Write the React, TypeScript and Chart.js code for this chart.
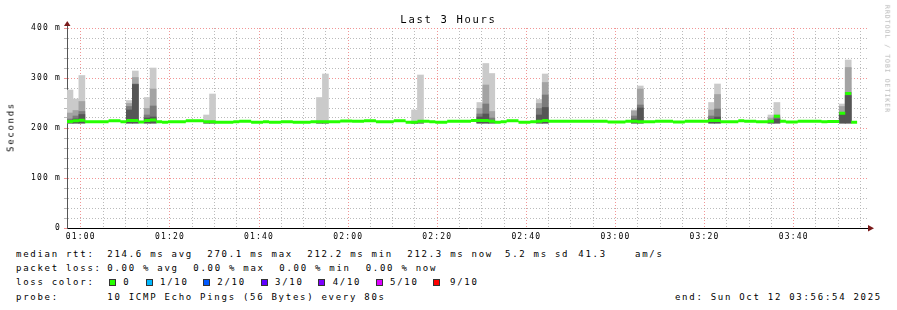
import React, { useEffect, useRef } from "react";
import { Chart, registerables } from "chart.js";

Chart.register(...registerables);

// ---------- data ----------
const TITLE = "Last 3 Hours";
const Y_AXIS_TITLE = "Seconds";
const WATERMARK = "RRDTOOL / TOBI OETIKER";

const X_START_MIN = 56.9; // 00:56:54
const WINDOW_MIN = 180;
const STEP_MIN = 80 / 60; // one probe round every 80 s

const X_TICK_MINUTES = [60, 80, 100, 120, 140, 160, 180, 200, 220];
const X_TICK_LABELS = ["01:00", "01:20", "01:40", "02:00", "02:20", "02:40", "03:00", "03:20", "03:40"];
const Y_TICK_VALUES = [0, 100, 200, 300, 400];
const Y_TICK_LABELS = ["0", "100 m", "200 m", "300 m", "400 m"];

// smoke (ms) per probe round column
const SMOKE_FLOOR = 210;
const SMOKE_COLS = [0, 1, 2, 10, 11, 13, 14, 23, 24, 42, 43, 58, 59, 69, 70, 71, 79, 80, 95, 96, 108, 109, 118, 119, 130, 131];
const SMOKE_MAX = [276, 258, 305, 255, 314, 261, 320, 226, 268, 261, 308, 236, 306, 251, 329, 309, 257, 308, 236, 284, 251, 288, 226, 251, 248, 336];
const SMOKE_UPPER = [230, 235, 253, 249, 301, 239, 278, 210, 210, 210, 210, 210, 210, 239, 286, 233, 249, 291, 234, 278, 236, 267, 220, 226, 243, 321];
const SMOKE_MID = [218, 224, 233, 243, 288, 226, 244, 210, 210, 210, 210, 210, 210, 228, 248, 220, 239, 266, 224, 246, 224, 238, 214, 222, 231, 271];
const SMOKE_INNER = [214, 218, 227, 236, 287, 220, 222, 210, 210, 210, 210, 210, 210, 222, 228, 215, 226, 241, 218, 240, 218, 222, 212, 218, 228, 265];

// median rtt (ms), runs starting at probe column
const MEDIAN_START_COLS = [0, 1, 2, 3, 7, 9, 10, 12, 13, 14, 15, 16, 17, 20, 23, 25, 28, 29, 31, 33, 34, 36, 38, 41, 46, 48, 50, 52, 55, 57, 59, 61, 62, 64, 68, 71, 72, 73, 74, 76, 78, 79, 80, 81, 84, 91, 94, 96, 99, 102, 104, 108, 110, 113, 114, 116, 118, 119, 120, 121, 123, 127, 128, 130, 131, 132];
const MEDIAN_VALUES = [213, 214.7, 215.3, 212.7, 214.3, 212.7, 215, 212, 215, 216, 212.7, 211.7, 212.7, 214.3, 212.7, 211.3, 212.5, 213.7, 211.5, 212.7, 211.5, 212.7, 211.3, 212.7, 214, 213.5, 214.7, 212.7, 214.3, 211.7, 213.7, 212.7, 211.3, 213.5, 215, 213.5, 211.7, 212.7, 214.7, 211.7, 212.7, 213.5, 215, 213.7, 213.5, 212, 213.7, 212.7, 213.7, 212, 213.7, 215, 212.7, 214.7, 213.7, 212.3, 213.5, 223.7, 213.5, 212, 213.5, 212.7, 213, 229.3, 269, 211.7];
const MEDIAN_END_COL = 133;

// legend texts
const RTT_LABEL = "median rtt:";
const RTT_STATS = ["214.6 ms avg", "270.1 ms max", "212.2 ms min", "212.3 ms now", "5.2 ms sd", "41.3", "am/s"];
const LOSS_LABEL = "packet loss:";
const LOSS_STATS = ["0.00 % avg", "0.00 % max", "0.00 % min", "0.00 % now"];
const LOSS_COLOR_LABEL = "loss color:";
const LOSS_LEVELS = ["0", "1/10", "2/10", "3/10", "4/10", "5/10", "9/10"];
const LOSS_COLORS = ["#26ff00", "#00b8ff", "#0059ff", "#5e00ff", "#7e00ff", "#dd00ff", "#ff0000"];
const PROBE_LABEL = "probe:";
const PROBE_TEXT = "10 ICMP Echo Pings (56 Bytes) every 80s";
const END_TEXT = "end: Sun Oct 12 03:56:54 2025";

// ---------- styles / layout ----------
const MONO = '"DejaVu Sans Mono", monospace';
const RED_GRID = "rgba(240,130,130,0.85)";
const GRAY_GRID = "rgba(170,170,170,0.8)";
const SMOKE_COLORS = ["#cacaca", "#a3a3a3", "#7b7b7b", "#555555"];
const MEDIAN_COLOR = "#26ff00";

const RTT_X = [107.3, 207.3, 307.3, 407.3, 505, 578.3, 635];
const LOSS_X = [107.3, 193.3, 279.3, 365.7];
const LOSS_BOX_X = [109.3, 145.7, 202.7, 260.7, 318.3, 375.7, 433.3];
const LOSS_TEXT_X = [123.3, 160, 217.3, 275, 332.7, 390, 450];
const LINE_TOPS = [250, 264.2, 278.4, 292.6];

const colCenter = (c: number) => X_START_MIN + (c + 0.5) * STEP_MIN;
const colStart = (c: number) => X_START_MIN + c * STEP_MIN;

const arrowPlugin = {
  id: "rrdArrows",
  beforeDraw(chart: any) {
    chart.ctx.letterSpacing = "1.18px";
  },
  afterDraw(chart: any) {
    const { ctx, chartArea } = chart;
    const { left, top, right, bottom } = chartArea;
    ctx.save();
    ctx.letterSpacing = "0px";
    ctx.strokeStyle = "#555";
    ctx.lineWidth = 1;
    ctx.beginPath();
    ctx.moveTo(Math.round(left) + 0.5, top - 2);
    ctx.lineTo(Math.round(left) + 0.5, top);
    ctx.stroke();
    ctx.fillStyle = "#7a1a1a";
    ctx.beginPath();
    ctx.moveTo(left - 3, top - 2);
    ctx.lineTo(left + 3.5, top - 2);
    ctx.lineTo(left + 0.25, top - 7);
    ctx.closePath();
    ctx.fill();
    ctx.beginPath();
    ctx.moveTo(right - 1, bottom - 3);
    ctx.lineTo(right - 1, bottom + 3.5);
    ctx.lineTo(right + 5, bottom + 0.25);
    ctx.closePath();
    ctx.fill();
    ctx.restore();
  },
};

function smokeDataset(tops: number[], color: string, order: number, label: string) {
  return {
    type: "bar" as const,
    label,
    data: SMOKE_COLS.map((c, i) => ({ x: colCenter(c), y: [SMOKE_FLOOR, tops[i]] })),
    backgroundColor: color,
    borderWidth: 0,
    barThickness: 6,
    grouped: false,
    order,
  };
}

function medianData() {
  const pts: any[] = [];
  MEDIAN_START_COLS.forEach((c, i) => {
    const next = i + 1 < MEDIAN_START_COLS.length ? MEDIAN_START_COLS[i + 1] : MEDIAN_END_COL;
    pts.push({ x: colStart(c), y: MEDIAN_VALUES[i] });
    pts.push({ x: colStart(next), y: MEDIAN_VALUES[i] });
    pts.push({ x: colStart(next), y: null });
  });
  return pts;
}

const xGridTicks = () => {
  const t: { value: number }[] = [];
  for (let m = 60; m <= X_START_MIN + WINDOW_MIN; m += 5) t.push({ value: m });
  return t;
};
const yGridTicks = () => {
  const t: { value: number }[] = [];
  for (let v = 0; v <= 400; v += 20) t.push({ value: v });
  return t;
};

export default function App() {
  const canvasRef = useRef<HTMLCanvasElement>(null);

  useEffect(() => {
    if (!canvasRef.current) return;
    const chart = new Chart(canvasRef.current, {
      type: "bar",
      data: {
        datasets: [
          {
            type: "line",
            label: "median rtt",
            data: medianData(),
            borderColor: MEDIAN_COLOR,
            borderWidth: 3,
            borderCapStyle: "butt",
            pointRadius: 0,
            spanGaps: false,
            tension: 0,
            order: 0,
          } as any,
          smokeDataset(SMOKE_INNER, SMOKE_COLORS[3], 1, "smoke inner"),
          smokeDataset(SMOKE_MID, SMOKE_COLORS[2], 2, "smoke mid"),
          smokeDataset(SMOKE_UPPER, SMOKE_COLORS[1], 3, "smoke upper"),
          smokeDataset(SMOKE_MAX, SMOKE_COLORS[0], 4, "smoke max"),
        ],
      },
      options: {
        animation: false,
        responsive: false,
        devicePixelRatio: 1,
        layout: { padding: { left: 0, top: 28, right: 28, bottom: 0 } },
        plugins: {
          legend: { display: false },
          title: { display: false },
          tooltip: { enabled: false },
        },
        scales: {
          x: {
            type: "linear",
            offset: false,
            min: X_START_MIN,
            max: X_START_MIN + WINDOW_MIN,
            afterBuildTicks: (s: any) => {
              s.ticks = xGridTicks();
            },
            afterFit: (s: any) => {
              s.height = 17;
              s.paddingLeft = 0;
              s.paddingRight = 0;
            },
            ticks: {
              autoSkip: false,
              maxRotation: 0,
              minRotation: 0,
              padding: 4,
              color: "#000",
              font: { family: MONO, size: 8 },
              callback: (v: any) => {
                const i = X_TICK_MINUTES.indexOf(Number(v));
                return i >= 0 ? X_TICK_LABELS[i] : "";
              },
            },
            grid: {
              offset: false,
              drawTicks: false,
              lineWidth: 1,
              color: (ctx: any) => (ctx.tick && ctx.tick.value % 20 === 0 ? RED_GRID : GRAY_GRID),
            },
            border: { display: true, color: "#000", width: 1, dash: [1, 2] },
          },
          y: {
            type: "linear",
            min: 0,
            max: 400,
            afterBuildTicks: (s: any) => {
              s.ticks = yGridTicks();
            },
            afterFit: (s: any) => {
              s.width = 67;
              s.paddingTop = 0;
              s.paddingBottom = 0;
            },
            ticks: {
              autoSkip: false,
              padding: 3,
              color: "#000",
              font: { family: MONO, size: 8 },
              callback: (v: any) => {
                const i = Y_TICK_VALUES.indexOf(Number(v));
                return i >= 0 ? Y_TICK_LABELS[i] : "";
              },
            },
            grid: {
              drawTicks: true,
              tickLength: 3,
              lineWidth: 1,
              color: (ctx: any) =>
                ctx.tick && ctx.tick.value === 0
                  ? "rgba(0,0,0,0)"
                  : ctx.tick && ctx.tick.value % 100 === 0
                  ? RED_GRID
                  : GRAY_GRID,
              tickColor: (ctx: any) =>
                ctx.tick && ctx.tick.value % 100 === 0 ? RED_GRID : GRAY_GRID,
            },
            border: { display: true, color: "#555", width: 1, dash: [1, 2] },
          },
        },
      } as any,
      plugins: [arrowPlugin],
    });
    return () => chart.destroy();
  }, []);

  const txt = (left: number, top: number, s: string, key?: string) => (
    <span
      key={key}
      style={{
        position: "absolute",
        left,
        top,
        fontSize: 9,
        lineHeight: "9px",
        letterSpacing: "1.72px",
        whiteSpace: "pre",
        color: "#000",
      }}
    >
      {s}
    </span>
  );

  return (
    <div
      style={{
        position: "absolute",
        left: 0,
        top: 0,
        width: 897,
        height: 310,
        background: "#ffffff",
        overflow: "hidden",
        fontFamily: MONO,
      }}
    >
      <canvas
        ref={canvasRef}
        width={897}
        height={245}
        style={{ position: "absolute", left: 0, top: 0, width: 897, height: 245 }}
      />
      <div
        style={{
          position: "absolute",
          left: 0,
          top: 14,
          width: 897,
          textAlign: "center",
          fontSize: 10.5,
          lineHeight: "10.5px",
          letterSpacing: "1.7px",
          color: "#000",
          whiteSpace: "pre",
        }}
      >
        {TITLE}
      </div>
      <div
        style={{
          position: "absolute",
          left: 11,
          top: 127,
          transform: "translate(-50%, -50%) rotate(-90deg)",
          fontSize: 9,
          lineHeight: "9px",
          letterSpacing: "1.72px",
          whiteSpace: "pre",
          color: "#000",
        }}
      >
        {Y_AXIS_TITLE}
      </div>
      <div
        style={{
          position: "absolute",
          left: 886.5,
          top: 59,
          transform: "translate(-50%, -50%) rotate(90deg)",
          fontSize: 6.5,
          lineHeight: "6.5px",
          letterSpacing: "1px",
          whiteSpace: "pre",
          color: "#b4b4b4",
        }}
      >
        {WATERMARK}
      </div>

      {txt(16, LINE_TOPS[0], RTT_LABEL)}
      {RTT_STATS.map((s, i) => txt(RTT_X[i], LINE_TOPS[0], s, "r" + i))}

      {txt(16, LINE_TOPS[1], LOSS_LABEL)}
      {LOSS_STATS.map((s, i) => txt(LOSS_X[i], LINE_TOPS[1], s, "l" + i))}

      {txt(16, LINE_TOPS[2], LOSS_COLOR_LABEL)}
      {LOSS_LEVELS.map((s, i) => (
        <React.Fragment key={"c" + i}>
          <span
            style={{
              position: "absolute",
              left: LOSS_BOX_X[i],
              top: 278.5,
              width: 7,
              height: 7,
              boxSizing: "border-box",
              border: "1px solid #333",
              background: LOSS_COLORS[i],
            }}
          />
          {txt(LOSS_TEXT_X[i], LINE_TOPS[2], s)}
        </React.Fragment>
      ))}

      {txt(16, LINE_TOPS[3], PROBE_LABEL)}
      {txt(107.3, LINE_TOPS[3], PROBE_TEXT)}
      <span
        style={{
          position: "absolute",
          right: 897 - 882,
          top: LINE_TOPS[3],
          fontSize: 9,
          lineHeight: "9px",
          letterSpacing: "1.72px",
          whiteSpace: "pre",
          color: "#000",
        }}
      >
        {END_TEXT}
      </span>
    </div>
  );
}
